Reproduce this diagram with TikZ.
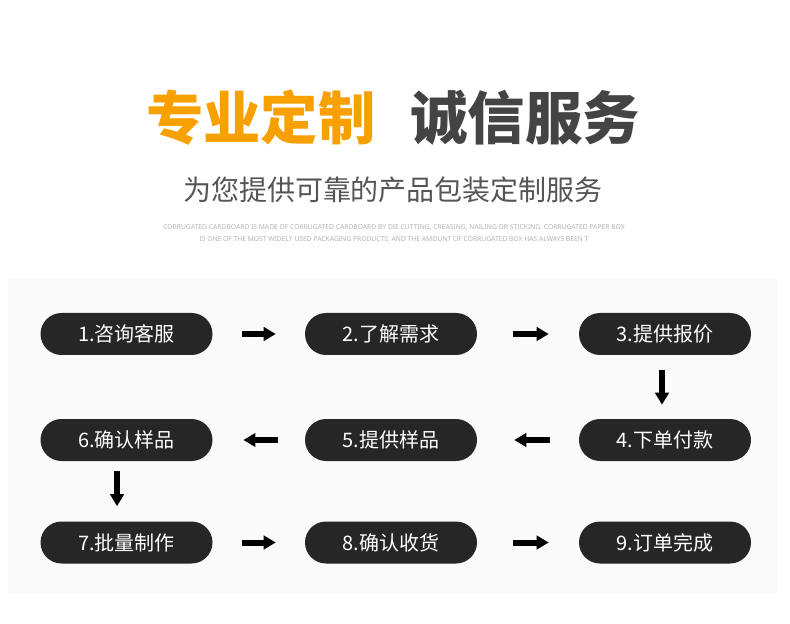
\documentclass[tikz,border=0pt]{standalone}
\usepackage{fontspec}
\newfontfamily\cjk{Noto Sans CJK SC}
\newfontfamily\latinsans{Noto Sans}
\usetikzlibrary{arrows.meta}
\definecolor{amberhead}{HTML}{F7A000}
\definecolor{charcoal}{HTML}{444444}
\definecolor{slate}{HTML}{555555}
\definecolor{faint}{HTML}{B3B3B3}
\definecolor{pillgray}{HTML}{262626}
\definecolor{panelbg}{HTML}{FAFAFA}

\begin{document}
\begin{tikzpicture}[x=0.75pt, y=-0.75pt,
  stage/.style={fill=pillgray, text=white, rounded corners=15.75pt,
                minimum width=129pt, minimum height=31.5pt, inner sep=0pt,
                font=\cjk\fontsize{15}{18}\selectfont},
  flow/.style={line width=4.5pt, black, -{Triangle[length=9pt, width=10pt]}}]
  \useasboundingbox (0,0) rectangle (790,624);
  \fill[white] (0,0) rectangle (790,624);
  % ---- heading ----
  \node[font=\cjk\bfseries\fontsize{43}{50}\selectfont, text=amberhead] (tagA) at (261,118){专业定制};
  \node[font=\cjk\bfseries\fontsize{43}{50}\selectfont, text=charcoal] (tagB) at (525,118){诚信服务};
  \node[font=\cjk\fontsize{21}{25}\selectfont, text=slate] (slogan) at (393,190)
        {为您提供可靠的产品包装定制服务};
  \node[font=\latinsans\fontsize{5.05}{9}\selectfont, text=faint, align=center] (blurb) at (394,233)
        {CORRUGATED CARDBOARD IS MADE OF CORRUGATED CARDBOARD BY DIE CUTTING, CREASING, NAILING OR STICKING. CORRUGATED PAPER BOX\\
         IS ONE OF THE MOST WIDELY USED PACKAGING PRODUCTS, AND THE AMOUNT OF CORRUGATED BOX HAS ALWAYS BEEN T};
  % ---- process panel ----
  \fill[panelbg] (8,279) rectangle (777,594);
  \node[stage] (s1) at (126.5,334){1.咨询客服};
  \node[stage] (s2) at (391,334){2.了解需求};
  \node[stage] (s3) at (665,334){3.提供报价};
  \node[stage] (s4) at (665,440){4.下单付款};
  \node[stage] (s5) at (391,440){5.提供样品};
  \node[stage] (s6) at (126.5,440){6.确认样品};
  \node[stage] (s7) at (126.5,542.5){7.批量制作};
  \node[stage] (s8) at (391,542.5){8.确认收货};
  \node[stage] (s9) at (665,542.5){9.订单完成};
  % ---- arrows, snaking row by row ----
  \draw[flow, shorten <=21.75pt, shorten >=21.75pt] (s1) -- (s2);
  \draw[flow, shorten <=27pt, shorten >=22.5pt] (s2) -- (s3);
  \draw[flow, shorten <=11.25pt, shorten >=10.5pt] ([xshift=-2.25pt]s3.south) -- ([xshift=-2.25pt]s4.north);
  \draw[flow, shorten <=21.75pt, shorten >=27.75pt] (s4) -- (s5);
  \draw[flow, shorten <=20.25pt, shorten >=23pt] (s5) -- (s6);
  \draw[flow, shorten <=7.5pt, shorten >=11.25pt] ([xshift=-7.1pt]s6.south) -- ([xshift=-7.1pt]s7.north);
  \draw[flow, shorten <=21.75pt, shorten >=21.75pt] (s7) -- (s8);
  \draw[flow, shorten <=27pt, shorten >=22.5pt] (s8) -- (s9);
\end{tikzpicture}
\end{document}
